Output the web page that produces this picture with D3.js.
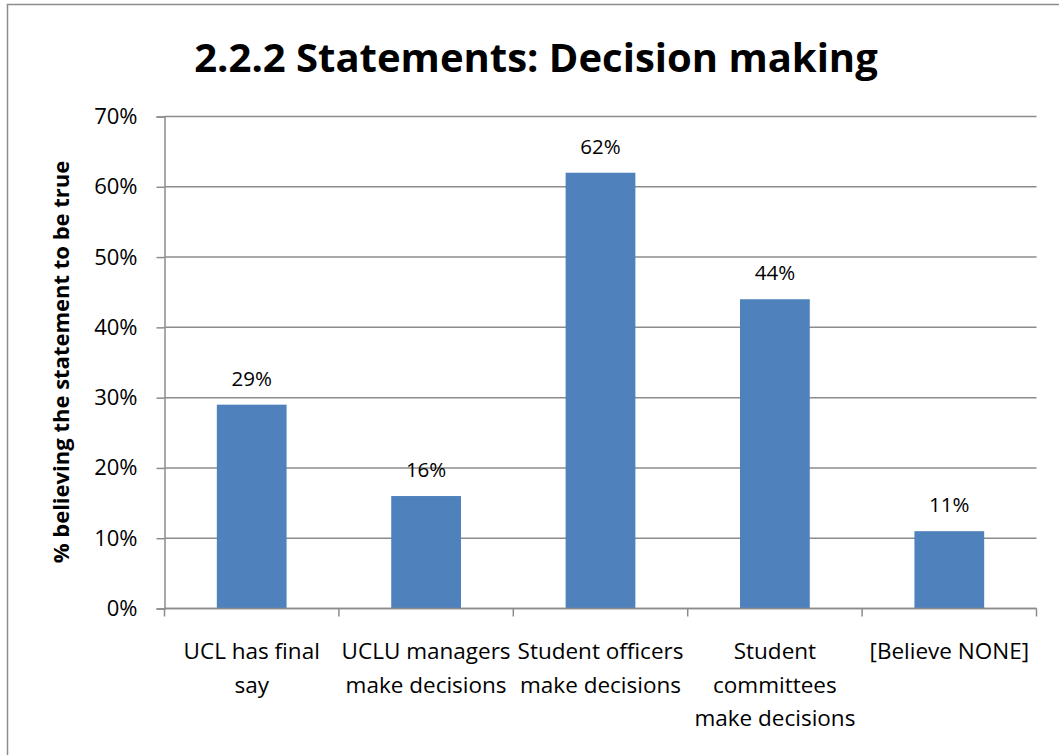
<!DOCTYPE html>
<html>
<head>
<meta charset="utf-8">
<script src="https://cdn.jsdelivr.net/npm/d3@7"></script>
<style>
  html, body { margin: 0; padding: 0; background: #fff; overflow: hidden; }
  svg text { font-family: "Open Sans", "Liberation Sans", sans-serif; fill: #000; }
</style>
</head>
<body>
<svg id="chart" width="1059" height="755"></svg>
<script>
// Survey results: share of respondents believing each statement
const categories = [
  "UCL has final say",
  "UCLU managers make decisions",
  "Student officers make decisions",
  "Student committees make decisions",
  "[Believe NONE]"
];
// Wrapped label lines for the category axis
const categoryLines = [
  ["UCL has final", "say"],
  ["UCLU managers", "make decisions"],
  ["Student officers", "make decisions"],
  ["Student", "committees", "make decisions"],
  ["[Believe NONE]"]
];
const values = [0.29, 0.16, 0.62, 0.44, 0.11];
const yTicks = [0, 0.1, 0.2, 0.3, 0.4, 0.5, 0.6, 0.7];

const title = "2.2.2 Statements: Decision making";
const yTitle = "% believing the statement to be true";

const svg = d3.select("#chart");
const W = 1059, H = 755;
const margin = { left: 164.5, right: 1036.5, top: 116.5, bottom: 608.5 };
const gridColor = "#8c8c8c";

// Outer chart frame (right and bottom edges run past the visible area)
svg.append("rect")
  .attr("x", 7.5).attr("y", 4.5)
  .attr("width", W + 20).attr("height", H + 20)
  .attr("fill", "#fff").attr("stroke", "#8c8c8c").attr("stroke-width", 1.5);

const x = d3.scaleBand().domain(categories).range([margin.left, margin.right]).padding(0);
const y = d3.scaleLinear().domain([0, 0.7]).range([margin.bottom, margin.top]);

// Horizontal gridlines
svg.append("g").selectAll("line").data(yTicks).join("line")
  .attr("x1", margin.left).attr("x2", margin.right)
  .attr("y1", d => y(d)).attr("y2", d => y(d))
  .attr("stroke", gridColor).attr("stroke-width", 1.5);

// Bars
const barW = x.bandwidth() * 0.4;
svg.append("g").selectAll("rect").data(values).join("rect")
  .attr("x", (d, i) => x(categories[i]) + (x.bandwidth() - barW) / 2)
  .attr("width", barW)
  .attr("y", d => y(d))
  .attr("height", d => y(0) - y(d))
  .attr("fill", "#4f81bd");

// Y axis
const yAxis = d3.axisLeft(y).tickValues(yTicks)
  .tickFormat(d3.format(".0%")).tickSize(8).tickPadding(19);
const gy = svg.append("g").attr("transform", `translate(${margin.left},0)`).call(yAxis);
gy.select(".domain").attr("stroke", gridColor).attr("stroke-width", 1.5);
gy.selectAll(".tick line").attr("stroke", gridColor).attr("stroke-width", 1.5);
gy.selectAll(".tick text").attr("font-size", 22).attr("fill", "#000")
  .style("font-family", "'Open Sans', sans-serif");

// X axis baseline with ticks between categories
svg.append("line")
  .attr("x1", margin.left).attr("x2", margin.right)
  .attr("y1", y(0)).attr("y2", y(0))
  .attr("stroke", gridColor).attr("stroke-width", 1.5);
const boundaries = categories.map(c => x(c)).concat([x.range()[1]]);
svg.append("g").selectAll("line").data(boundaries).join("line")
  .attr("x1", d => d).attr("x2", d => d)
  .attr("y1", y(0)).attr("y2", y(0) + 8)
  .attr("stroke", gridColor).attr("stroke-width", 1.5);

// Category labels
const lab = svg.append("g").selectAll("text").data(categoryLines).join("text")
  .attr("text-anchor", "middle")
  .attr("font-size", 22.5)
  .attr("x", (d, i) => x(categories[i]) + x.bandwidth() / 2);
lab.selectAll("tspan").data(d => d).join("tspan")
  .attr("x", function() { return this.parentNode.getAttribute("x"); })
  .attr("y", (d, j) => 659 + j * 33.5)
  .text(d => d);

// Value labels above bars
svg.append("g").selectAll("text").data(values).join("text")
  .attr("text-anchor", "middle")
  .attr("font-size", 20.5)
  .attr("x", (d, i) => x(categories[i]) + x.bandwidth() / 2)
  .attr("y", d => y(d) - 19)
  .text(d => d3.format(".0%")(d));

// Chart title
svg.append("text")
  .attr("x", 536).attr("y", 72)
  .attr("text-anchor", "middle")
  .attr("font-size", 40).attr("font-weight", "bold")
  .text(title);

// Y axis title
svg.append("text")
  .attr("transform", `translate(69,362) rotate(-90)`)
  .attr("text-anchor", "middle")
  .attr("font-size", 22).attr("font-weight", "bold")
  .text(yTitle);
</script>
</body>
</html>
